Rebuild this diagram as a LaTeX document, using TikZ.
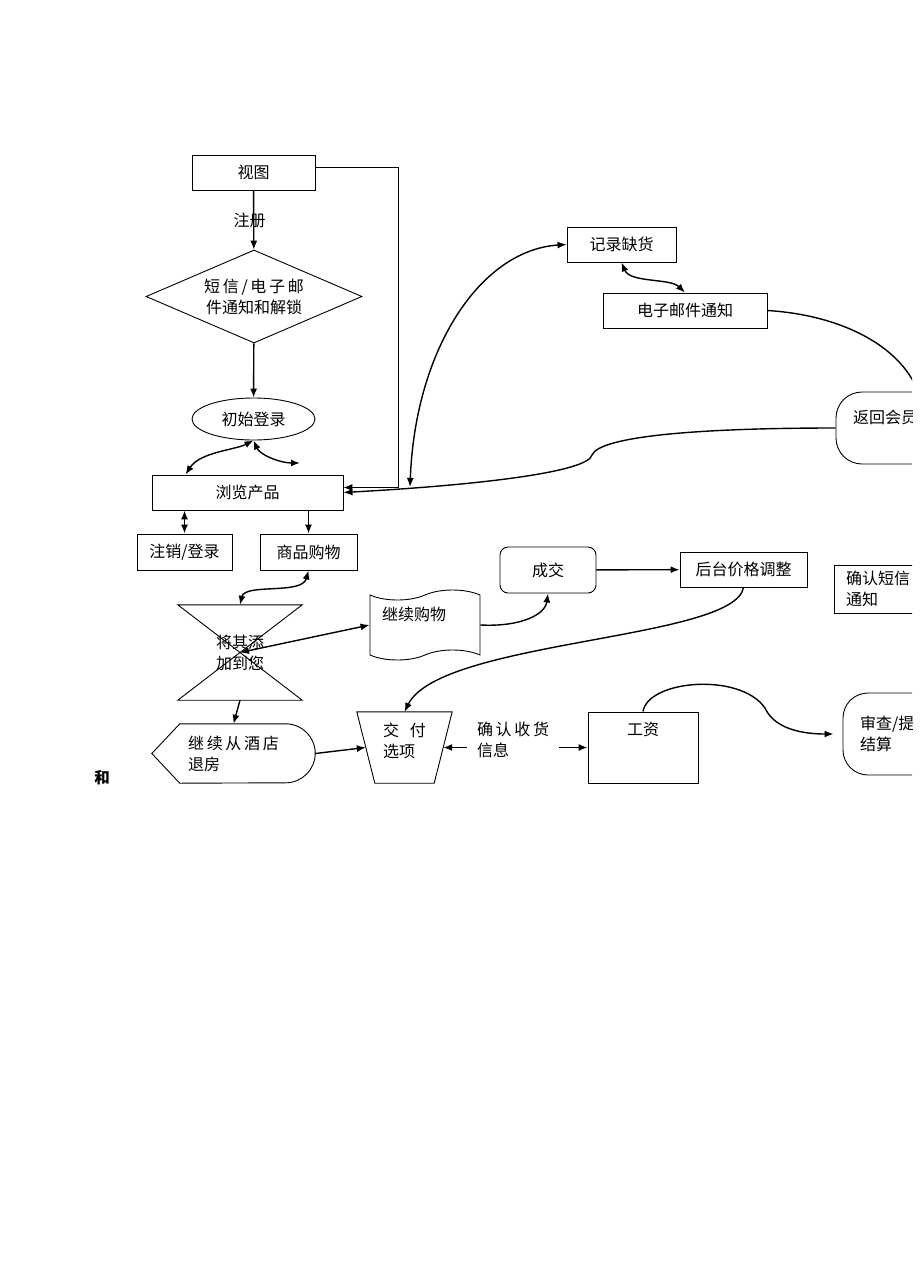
\documentclass[tikz,border=0pt]{standalone}
\usepackage{fontspec}
\setmainfont{Noto Sans CJK SC}
\usepackage{tikz}
\usetikzlibrary{arrows.meta,shapes}

\begin{document}
\begin{tikzpicture}[
  x=1pt, y=-1pt,
  >={Latex[length=9pt,width=7pt]},
  every node/.style = {font=\fontsize{16}{21}\selectfont},
  box/.style = {draw, line width=0.9pt},
  conn/.style = {line width=1.4pt},
  thinconn/.style = {line width=1pt}]

  \useasboundingbox (0,0) rectangle (920,1276);
  \clip (0,0) rectangle (912,1276);

  % left column
  \node[box, minimum width=123pt, minimum height=35pt] (view) at (253.5,172.5) {视图};
  \node[box, diamond, aspect=2.3, inner sep=0pt, minimum width=216pt, minimum height=93pt, align=center] (unlock) at (254,296.5) {短\,信\,/\,电\,子\,邮\\件通知和解锁};
  \node[box, ellipse, minimum width=123pt, minimum height=42pt] (login) at (253.5,419) {初始登录};
  \node[box, minimum width=191pt, minimum height=35pt] (browse) at (247.5,492.5) {浏览产品};
  \node[box, minimum width=95pt, minimum height=36pt] (logout) at (184.5,552) {注销/登录};
  \node[box, minimum width=97pt, minimum height=36pt] (shop) at (308.5,552) {商品购物};
  \node[minimum width=124pt, minimum height=95pt, align=center] (addcart) at (240,652.5) {将其添\\加到您};
  \draw[box] (addcart.north west) -- (addcart.north east) -- (addcart.south west) -- (addcart.south east) -- cycle;
  \node[minimum width=163pt, minimum height=59pt, align=left] (checkout) at (233.5,753.5) {继\,续\,从\,酒\,店\\退房};
  \draw[box] (checkout.west) -- ([xshift=28pt]checkout.north west) -- ([xshift=-29.5pt]checkout.north east)
    arc[start angle=90, end angle=-90, radius=29.5pt] -- ([xshift=28pt]checkout.south west) -- cycle;
  \node[font=\fontsize{15.5}{21}\selectfont\bfseries] (he) at (102,778) {和};

  % middle
  \node[box, tape, tape bend height=10pt, minimum width=110pt, minimum height=70pt, text width=86pt, align=left, text depth=22pt] (more) at (425,625) {继续购物};
  \node[box, rounded corners=8pt, minimum width=96pt, minimum height=46pt] (deal) at (548,570) {成交};
  \node[minimum width=95pt, minimum height=71pt, align=left, text depth=15pt] (payopt) at (404.5,747.5) {交\hspace{11pt}付\\选项};
  \draw[box] (payopt.north west) -- (payopt.north east) -- ([xshift=-18pt]payopt.south east) -- ([xshift=18pt]payopt.south west) -- cycle;
  \node[align=left, inner xsep=10pt] (recv) at (513,740) {确\,认\,收\,货\\信息};
  \node[box, minimum width=110pt, minimum height=71pt, text depth=37pt] (wage) at (643,747.5) {工资};

  % right column
  \node[box, minimum width=109pt, minimum height=35pt] (stock) at (621.5,244.5) {记录缺货};
  \node[box, minimum width=164pt, minimum height=35pt] (notify) at (685,310.5) {电子邮件通知};
  \node[box, rounded corners=26pt, minimum height=72pt, text width=130pt, inner xsep=17pt, align=left, text depth=22pt] (member) at (918,428) {返回会员};
  \node[box, minimum width=127pt, minimum height=35pt] (price) at (743.5,569.5) {后台价格调整};
  \node[box, minimum height=48pt, text width=100pt, inner xsep=12pt, align=left] (sms) at (896,589) {确认短信\\通知};
  \node[box, rounded corners=25pt, minimum height=82pt, text width=120pt, inner xsep=17pt, align=left] (audit) at (920,734) {审查/提\\结算};

  \coordinate (loginR) at (300,463);
  \coordinate (stockend) at (410,487);

  % connectors
  \draw[conn,->] (view) -- node[xshift=-4pt] {注册} (unlock);
  \draw[conn,->] (unlock) -- (login);
  \draw[conn,<->] (login.south) .. controls (235,450) and (200,452) .. ([xshift=34pt]browse.north west);
  \draw[conn,<->] (login.south) .. controls (260,455) and (280,463) .. (loginR);
  \draw[thinconn,->] ([yshift=5pt]view.east) -- ++(83,0) |- ([yshift=5pt]browse.east);
  \draw[conn,<->] (logout.north |- browse.south) -- (logout.north);
  \draw[conn,->] (shop.north |- browse.south) -- (shop.north);
  \draw[conn,<->] (shop.south) .. controls (302,595) and (245,583) .. (addcart.north);
  \draw[conn,<->] (addcart.center) -- (more.west);
  \draw[conn,->] (more.east) .. controls (520,627) and (545,615) .. (deal.south);
  \draw[conn,->] (deal) -- (price);
  \draw[conn,->] (price.south) .. controls (735,640) and (440,640) .. (payopt.north);
  \draw[conn,->] (addcart.south) -- (checkout.north);
  \draw[conn,->] (checkout.east) -- ([xshift=9pt]payopt.west);
  \draw[conn,->] (recv.west |- payopt) -- ([xshift=-9pt]payopt.east);
  \draw[conn,->] (recv.east |- wage) -- (wage.west);
  \draw[conn,->] (wage.north) .. controls (648,680) and (740,672) .. (765,708)
    .. controls (775,730) and (805,734) .. ([xshift=-9pt]audit.west);
  \draw[conn,<->] (stockend) .. controls (415,350) and (480,250) .. (stock.west);
  \draw[conn,<->] (stock.south) .. controls (630,283) and (670,278) .. (notify.north);
  \draw[conn] (notify.east) .. controls (840,315) and (900,345) .. (member.north);
  \draw[conn,->] (member.west) .. controls (700,428) and (600,436) .. (592,455)
    .. controls (588,472) and (480,485) .. (browse.east);
\end{tikzpicture}
\end{document}
